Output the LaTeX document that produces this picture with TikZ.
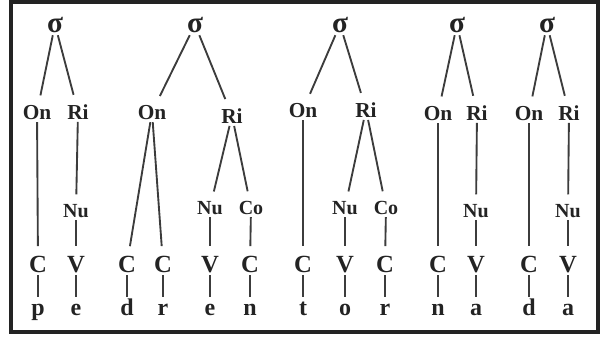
\documentclass[tikz,border=0pt]{standalone}
\usepackage{fontspec}
\setmainfont{Liberation Serif}
\usepackage{xcolor}
\usepackage{tikz}
\usetikzlibrary{positioning}
\definecolor{inkgray}{RGB}{35,35,35}
\definecolor{linegray}{RGB}{60,60,60}

\begin{document}
\begin{tikzpicture}[
  x=0.75pt, y=-0.75pt,
  sig/.style={text=inkgray, inner sep=2pt, anchor=base, font=\bfseries\fontsize{22}{22}\selectfont},
  cons/.style={text=inkgray, inner sep=2pt, anchor=base, font=\bfseries\fontsize{16}{16}\selectfont},
  sub/.style={text=inkgray, inner sep=2pt, anchor=base, font=\bfseries\fontsize{15}{15}\selectfont},
  slot/.style={text=inkgray, inner sep=2pt, anchor=base, font=\bfseries\fontsize{18.5}{18.5}\selectfont},
  seg/.style={text=inkgray, inner sep=2pt, anchor=base, text height=0.62em, text depth=0.2em,
              font=\bfseries\fontsize{18}{18}\selectfont},
  ln/.style={draw=linegray, line width=1.4pt, shorten >=5pt}
]
\useasboundingbox (0,0) rectangle (605,336);
\draw[line width=2.6pt, draw=inkgray] (11,2) rectangle (598,332);

% pe
\node[sig]  (s1)  at (55,  32)  {σ};
\node[cons] (on1) at (37, 119)  {On};
\node[cons] (ri1) at (78, 119)  {Ri};
\node[sub]  (nu1) at (76, 217)  {Nu};
\node[slot] (c1)  at (38, 272)  {C};
\node[slot] (v1)  at (76, 272)  {V};
\node[seg]  (x1)  at (38, 315)  {p};
\node[seg]  (y1)  at (76, 315)  {e};

% dren
\node[sig]  (s2)  at (195, 32)  {σ};
\node[cons] (on2) at (152,119)  {On};
\node[cons] (ri2) at (232,123)  {Ri};
\node[sub]  (nu2) at (210,214)  {Nu};
\node[sub]  (co2) at (251,214)  {Co};
\node[slot] (c2a) at (127,272)  {C};
\node[slot] (c2b) at (163,272)  {C};
\node[slot] (v2)  at (210,272)  {V};
\node[slot] (c2c) at (250,272)  {C};
\node[seg]  (x2a) at (127,315)  {d};
\node[seg]  (x2b) at (163,315)  {r};
\node[seg]  (y2)  at (210,315)  {e};
\node[seg]  (x2c) at (250,315)  {n};

% tor
\node[sig]  (s3)  at (340, 32)  {σ};
\node[cons] (on3) at (303,117)  {On};
\node[cons] (ri3) at (366,117)  {Ri};
\node[sub]  (nu3) at (345,214)  {Nu};
\node[sub]  (co3) at (386,214)  {Co};
\node[slot] (c3a) at (303,272)  {C};
\node[slot] (v3)  at (345,272)  {V};
\node[slot] (c3b) at (385,272)  {C};
\node[seg]  (x3a) at (303,315)  {t};
\node[seg]  (y3)  at (345,315)  {o};
\node[seg]  (x3b) at (385,315)  {r};

% na
\node[sig]  (s4)  at (457, 32)  {σ};
\node[cons] (on4) at (438,120)  {On};
\node[cons] (ri4) at (477,120)  {Ri};
\node[sub]  (nu4) at (476,217)  {Nu};
\node[slot] (c4)  at (438,272)  {C};
\node[slot] (v4)  at (476,272)  {V};
\node[seg]  (x4)  at (438,315)  {n};
\node[seg]  (y4)  at (476,315)  {a};

% da
\node[sig]  (s5)  at (547, 32)  {σ};
\node[cons] (on5) at (529,120)  {On};
\node[cons] (ri5) at (569,120)  {Ri};
\node[sub]  (nu5) at (568,217)  {Nu};
\node[slot] (c5)  at (529,272)  {C};
\node[slot] (v5)  at (568,272)  {V};
\node[seg]  (x5)  at (529,315)  {d};
\node[seg]  (y5)  at (568,315)  {a};

\draw[ln] (s1) -- (on1);
\draw[ln] (s1) -- (ri1);
\draw[ln] (on1) -- (c1);
\draw[ln] (ri1) -- (nu1);
\draw[ln] (nu1) -- (v1);
\draw[ln] (c1) -- (x1);
\draw[ln] (v1) -- (y1);

\draw[ln] (s2) -- (on2);
\draw[ln] (s2) -- (ri2);
\draw[ln] (on2) -- (c2a);
\draw[ln] (on2) -- (c2b);
\draw[ln] (ri2) -- (nu2);
\draw[ln] (ri2) -- (co2);
\draw[ln] (nu2) -- (v2);
\draw[ln] (co2) -- (c2c);
\draw[ln] (c2a) -- (x2a);
\draw[ln] (c2b) -- (x2b);
\draw[ln] (v2) -- (y2);
\draw[ln] (c2c) -- (x2c);

\draw[ln] (s3) -- (on3);
\draw[ln] (s3) -- (ri3);
\draw[ln] (on3) -- (c3a);
\draw[ln] (ri3) -- (nu3);
\draw[ln] (ri3) -- (co3);
\draw[ln] (nu3) -- (v3);
\draw[ln] (co3) -- (c3b);
\draw[ln] (c3a) -- (x3a);
\draw[ln] (v3) -- (y3);
\draw[ln] (c3b) -- (x3b);

\draw[ln] (s4) -- (on4);
\draw[ln] (s4) -- (ri4);
\draw[ln] (on4) -- (c4);
\draw[ln] (ri4) -- (nu4);
\draw[ln] (nu4) -- (v4);
\draw[ln] (c4) -- (x4);
\draw[ln] (v4) -- (y4);

\draw[ln] (s5) -- (on5);
\draw[ln] (s5) -- (ri5);
\draw[ln] (on5) -- (c5);
\draw[ln] (ri5) -- (nu5);
\draw[ln] (nu5) -- (v5);
\draw[ln] (c5) -- (x5);
\draw[ln] (v5) -- (y5);

\end{tikzpicture}
\end{document}
